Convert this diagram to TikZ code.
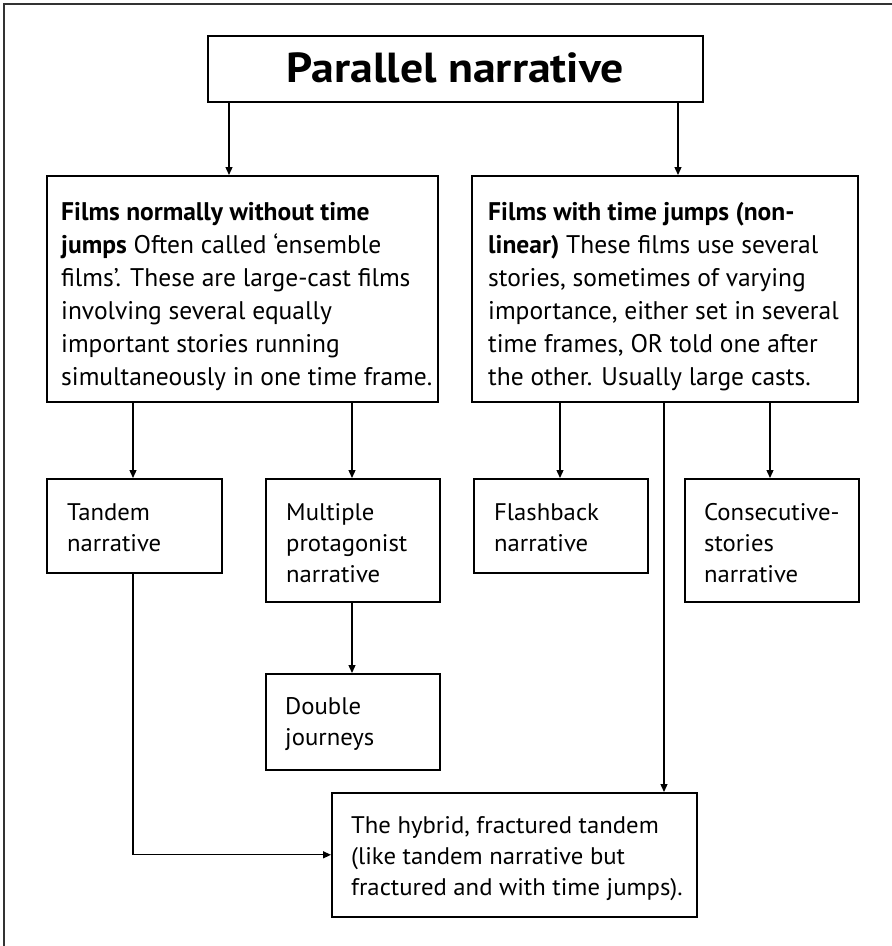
\documentclass[tikz,border=0pt]{standalone}
\usepackage{fontspec}
\setmainfont{PT Sans}
\newfontfamily\condfont[FakeStretch=1.03]{PT Sans}
\newfontfamily\headfont[FakeStretch=1.09]{PT Sans}
\usetikzlibrary{arrows.meta}
\begin{document}
\begin{tikzpicture}[x=1pt,y=-1pt,
  box/.style={draw=black,line width=1.6pt,rectangle,inner sep=0pt,anchor=north west},
  arr/.style={line width=1.3pt,-{Triangle[length=8pt,width=7pt]}},
  bodytext/.style={anchor=north west,inner sep=0pt,align=left,font=\fontsize{25.5}{33}\selectfont},
  smalltext/.style={anchor=north west,inner sep=0pt,align=left,font=\condfont\fontsize{24}{31}\selectfont}]
\useasboundingbox (0,0) rectangle (892,946);
% frame edges along the top and left
\draw[line width=2pt,black!80] (4,946) -- (4,4) -- (892,4);

% boxes
\node[box,minimum width=495pt,minimum height=66pt] (title) at (207,35) {};
\node[font=\headfont\bfseries\fontsize{42}{46}\selectfont,inner sep=0pt] (titletext) at ([yshift=1pt]title.center) {Parallel narrative};
\node[box,minimum width=391pt,minimum height=226pt] (ens) at (46,175) {};
\node[box,minimum width=386pt,minimum height=226pt] (nonlin) at (471,175) {};
\node[box,minimum width=175pt,minimum height=94pt] (tandem) at (46,478) {};
\node[box,minimum width=174pt,minimum height=123pt] (multi) at (265,478) {};
\node[box,minimum width=174pt,minimum height=94pt] (flash) at (473,478) {};
\node[box,minimum width=174pt,minimum height=123pt] (consec) at (684,478) {};
\node[box,minimum width=174pt,minimum height=96pt] (double) at (265,673) {};
\node[box,minimum width=365pt,minimum height=124pt] (hybrid) at (331,792) {};

% box texts
\node[bodytext] (enstext) at ([shift={(15,27)}]ens.north west)
  {\textbf{Films normally without time}\\
   \textbf{jumps} Often called ‘ensemble\\
   films’. These are large-cast films\\
   involving several equally\\
   important stories running\\
   simultaneously in one time frame.};
\node[bodytext] (nonlintext) at ([shift={(17,27)}]nonlin.north west)
  {\textbf{Films with time jumps (non-}\\
   \textbf{linear)} These films use several\\
   stories, sometimes of varying\\
   importance, either set in several\\
   time frames, OR told one after\\
   the other. Usually large casts.};
\node[smalltext] (tandemtext) at ([shift={(21,25)}]tandem.north west) {Tandem\\narrative};
\node[smalltext] (multitext) at ([shift={(21,25)}]multi.north west) {Multiple\\protagonist\\narrative};
\node[smalltext] (flashtext) at ([shift={(21,25)}]flash.north west) {Flashback\\narrative};
\node[smalltext] (consectext) at ([shift={(20,25)}]consec.north west) {Consecutive-\\stories\\narrative};
\node[smalltext] (doubletext) at ([shift={(20,24)}]double.north west) {Double\\journeys};
\node[smalltext] (hybridtext) at ([shift={(20,24)}]hybrid.north west)
  {The hybrid, fractured tandem\\(like tandem narrative but\\fractured and with time jumps).};

% connectors
\draw[arr] ([xshift=22pt]title.south west) -- ([xshift=183pt]ens.north west);
\draw[arr] ([xshift=471pt]title.south west) -- ([xshift=207pt]nonlin.north west);
\draw[arr] ([xshift=87pt]ens.south west) -- ([xshift=87pt]tandem.north west);
\draw[arr] ([xshift=306pt]ens.south west) -- ([xshift=87pt]multi.north west);
\draw[arr] ([xshift=89pt]nonlin.south west) -- ([xshift=87pt]flash.north west);
\draw[arr] ([xshift=299pt]nonlin.south west) -- ([xshift=86pt]consec.north west);
\draw[arr] ([xshift=193pt]nonlin.south west) -- ([xshift=333pt]hybrid.north west);
\draw[arr] ([xshift=87pt]multi.south west) -- ([xshift=87pt]double.north west);
\draw[arr] ([xshift=87pt]tandem.south west) |- (hybrid.west);
\end{tikzpicture}
\end{document}
